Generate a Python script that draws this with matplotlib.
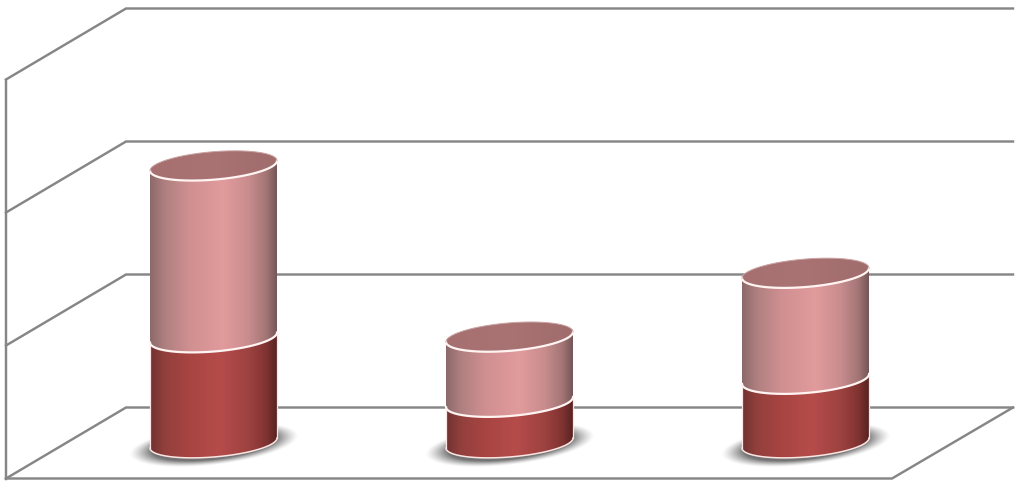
import numpy as np
import matplotlib
matplotlib.use("Agg")
import matplotlib.pyplot as plt
from matplotlib.colors import LinearSegmentedColormap
from matplotlib.patches import PathPatch
from matplotlib.path import Path

# Data (no text in the reference)
categories = ["A", "B", "C"]
lower_values = [0.793, 0.308, 0.481]
upper_values = [1.292, 0.490, 0.797]
grid_levels = [0, 1, 2, 3]

W, H = 1023, 485
PX_X = 296.0          # pixels per category step
PX_Y = 133.0          # pixels per value unit
X0, Y0 = 213.5, 444.0 # pixel of first category / zero level
GREY = "#868686"

fig = plt.figure(figsize=(W / 100, H / 100), dpi=100, facecolor="white")
ax = fig.add_axes([0, 0, 1, 1])
ax.set_xlim(-X0 / PX_X, (W - X0) / PX_X)
ax.set_ylim((Y0 - H) / PX_Y, Y0 / PX_Y)
ax.axis("off")

dx = lambda px: (px - X0) / PX_X
depth = 35.5 / PX_Y
xf, xb, xe, xr = dx(6), dx(126), dx(1013), dx(892)
lw = 1.75

# Walls, grid, floor
for lv in grid_levels:
    ax.plot([xf, xb, xe], [lv - depth, lv + depth, lv + depth], color=GREY, lw=lw, zorder=1,
            solid_joinstyle="miter")
ax.plot([xf, xf], [grid_levels[0] - depth, grid_levels[-1] - depth], color=GREY, lw=lw, zorder=1)
ax.plot([xf, xr, xe], [-depth, -depth, depth], color=GREY, lw=lw, zorder=1, solid_joinstyle="miter")

a = 63.5 / PX_X
b = 14.0 / PX_Y
s = 5.0 / PX_Y

lower_cmap = LinearSegmentedColormap.from_list("low", [
    (0, "#6f3332"), (0.12, "#93403d"), (0.3, "#a74442"), (0.55, "#b54c4a"),
    (0.78, "#9d4240"), (0.92, "#7f3331"), (1, "#582322")])
upper_cmap = LinearSegmentedColormap.from_list("up", [
    (0, "#8d6a6a"), (0.12, "#b08080"), (0.3, "#cf8f90"), (0.58, "#e19b9d"),
    (0.78, "#c88c8d"), (0.92, "#a37575"), (1, "#755757")])
cap_cmap = LinearSegmentedColormap.from_list("cap", ["#a67070", "#a97273", "#a06c6c"])
grad = np.linspace(0, 1, 256).reshape(1, -1)


def arc(cx, cy, t0, t1, n=80):
    t = np.linspace(t0, t1, n)
    return np.column_stack([cx + a * np.cos(t), cy + s * np.cos(t) + b * np.sin(t)])


def gradient_fill(verts, cmap, x0, x1, y0, y1, z):
    patch = PathPatch(Path(np.vstack([verts, verts[:1]])), fc="none", ec="none",
                      transform=ax.transData)
    ax.add_patch(patch)
    im = ax.imshow(grad, cmap=cmap, extent=[x0, x1, y0, y1], aspect="auto",
                   interpolation="bilinear", zorder=z)
    im.set_clip_path(patch)


def shadow(cx):
    xs = np.linspace(cx - 0.36, cx + 0.36, 220)
    ys = np.linspace(-0.28, 0.2, 120)
    X, Y = np.meshgrid(xs, ys)
    u = (X - cx) / (83 / PX_X)
    v = (Y + 2.0 / PX_Y - 0.11 * (X - cx) * PX_X / PX_Y) / (20.0 / PX_Y)
    r = np.sqrt(u ** 2 + v ** 2)
    alpha = np.clip((1.02 - r) / 0.28, 0, 1) ** 1.3 * 0.85
    rgba = np.zeros(X.shape + (4,))
    rgba[..., :3] = 0.36
    rgba[..., 3] = alpha
    ax.imshow(rgba, extent=[xs[0], xs[-1], ys[0], ys[-1]], origin="lower", aspect="auto",
              interpolation="bilinear", zorder=2)


for i, (cat, lo, up) in enumerate(zip(categories, lower_values, upper_values)):
    shadow(i)
    x0, x1 = i - a, i + a
    levels = [0, lo, lo + up]
    for j, cmap in enumerate([lower_cmap, upper_cmap]):
        y_b, y_t = levels[j], levels[j + 1]
        body = np.vstack([arc(i, y_b, np.pi, 2 * np.pi), arc(i, y_t, 2 * np.pi, np.pi)])
        gradient_fill(body, cmap, x0, x1, y_b - 0.2, y_t + 0.2, 3 + j * 0.1)
    cap = arc(i, levels[2], 0, 2 * np.pi, 160)
    gradient_fill(cap, cap_cmap, x0, x1, levels[2] - 0.2, levels[2] + 0.2, 4)

    # pale rims
    pale = "#fbe6e3"
    front = arc(i, 0, np.pi, 2 * np.pi)
    ax.plot(front[:, 0], front[:, 1], color=pale, lw=1.1, zorder=5)
    ax.plot([x0, x0], [-s, lo - s], color=pale, lw=0.9, zorder=5)
    ax.plot([x1, x1], [s, lo + s], color=pale, lw=0.9, zorder=5)
    for y in (lo, lo + up):
        seam = arc(i, y, np.pi, 2 * np.pi)
        ax.plot(seam[:, 0], seam[:, 1], color="#fff4f2", lw=1.6, zorder=5)
    back = arc(i, lo + up, 0, np.pi)
    ax.plot(back[:, 0], back[:, 1], color="#c9a3a3", lw=0.7, zorder=5)

ax.set_xlim(-X0 / PX_X, (W - X0) / PX_X)
ax.set_ylim((Y0 - H) / PX_Y, Y0 / PX_Y)
fig.savefig("out.png", dpi=100, facecolor="white")
